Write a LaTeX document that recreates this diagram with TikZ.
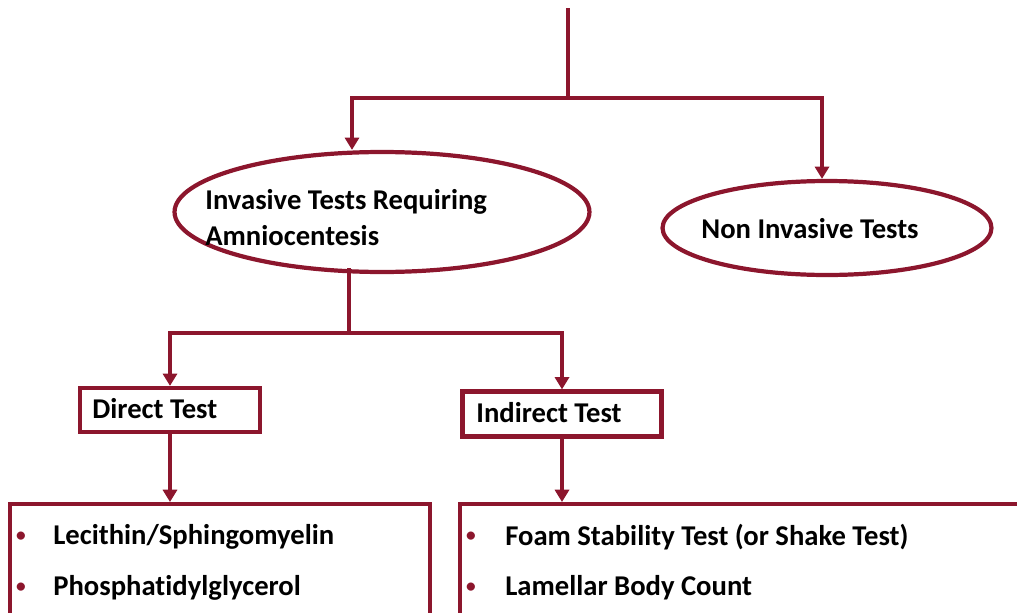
\documentclass[tikz,border=0pt]{standalone}
\usepackage{fontspec}
\setmainfont{Carlito}[Ligatures=NoCommon]
\usetikzlibrary{shapes.geometric,arrows.meta}

\definecolor{wine}{RGB}{140,22,45}

\tikzset{
    link/.style={draw=wine, line width=2.4pt},
    arr/.style={link, -{Triangle[length=7pt,width=8pt]}},
    oval/.style={ellipse, draw=wine, line width=2.4pt},
    testbox/.style={rectangle, draw=wine, line width=2.4pt},
    lbl/.style={font=\fontsize{16.3}{20.5}\selectfont\bfseries, inner sep=0pt, align=left},
    dot/.style={text=wine, font=\fontsize{11}{12}\selectfont\bfseries, inner sep=0pt}
}

\begin{document}
\begin{tikzpicture}[x=0.02cm, y=-0.02cm]

    \useasboundingbox (0,0) rectangle (1017,612);

    % the two kinds of tests
    \node[oval, minimum width=8.3cm, minimum height=2.4cm] (inv) at (382,212) {};
    \node[lbl, anchor=west] (invtext) at (205,218) {Invasive Tests Requiring\\Amniocentesis};
    \node[oval, minimum width=6.58cm, minimum height=1.88cm] (noninv) at (827,228) {};
    \node[lbl] (noninvtext) at (810,229) {Non Invasive Tests};

    % direct and indirect
    \node[testbox, minimum width=3.6cm, minimum height=0.88cm] (direct) at (170,410) {};
    \node[lbl, anchor=west] (directtext) at (92,409) {Direct Test};
    \node[testbox, minimum width=3.98cm, minimum height=0.9cm] (indirect) at (562,414) {};
    \node[lbl, anchor=west] (indirecttext) at (476,413) {Indirect Test};

    % the lists, cut at the lower edge
    \node[testbox, anchor=north west, minimum width=8.4cm, minimum height=3cm] (dlist) at (8,502) {};
    \node[testbox, anchor=north west, minimum width=12cm, minimum height=3cm] (ilist) at (458,502) {};

    \node[dot] (d1) at (21,537) {\textbullet};
    \node[lbl, anchor=west] (d1text) at (53,537) {Lecithin/Sphingomyelin};
    \node[dot] (d2) at (21,588) {\textbullet};
    \node[lbl, anchor=west] (d2text) at (53,588) {Phosphatidylglycerol};
    \node[dot] (i1) at (471,537) {\textbullet};
    \node[lbl, anchor=west] (i1text) at (505,537) {Foam Stability Test (or Shake Test)};
    \node[dot] (i2) at (471,588) {\textbullet};
    \node[lbl, anchor=west] (i2text) at (505,588) {Lamellar Body Count};

    % connectors
    \coordinate (top) at (568,8);
    \coordinate (split) at (568,98);
    \coordinate (invin) at (352,98);
    \coordinate (noninvin) at (822,98);
    \draw[link] (top) -- (split);
    \draw[arr] (split) -- (invin) -- (invin |- inv.north);
    \draw[arr] (split) -- (noninvin) -- (noninvin |- noninv.north);

    \coordinate (invout) at (349,268);
    \coordinate (split2) at (349,333);
    \draw[link] (invout) -- (split2);
    \draw[arr] (split2) -| (direct.north);
    \draw[arr] (split2) -| (indirect.north);

    \draw[arr] (direct.south) -- (direct.south |- dlist.north);
    \draw[arr] (indirect.south) -- (indirect.south |- ilist.north);

\end{tikzpicture}
\end{document}
